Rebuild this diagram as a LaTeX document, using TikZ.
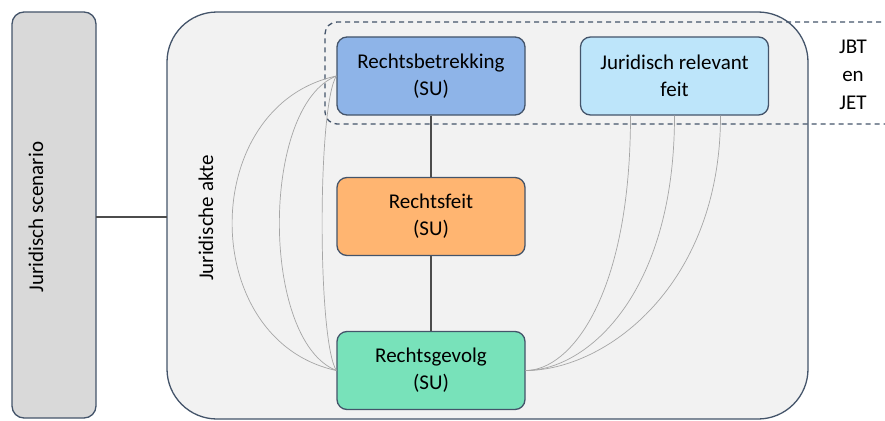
\documentclass[tikz,border=0pt]{standalone}
\usepackage{fontspec}
\setmainfont{Carlito}
\usetikzlibrary{positioning}

\definecolor{rand}{HTML}{44546A}
\definecolor{scengrijs}{HTML}{D9D9D9}
\definecolor{aktegrijs}{HTML}{F2F2F2}
\definecolor{rbblauw}{HTML}{8EB4E8}
\definecolor{jrfblauw}{HTML}{BDE5FA}
\definecolor{rforanje}{HTML}{FFB571}
\definecolor{rggroen}{HTML}{78E2BA}
\definecolor{lijngrijs}{HTML}{A6A6A6}

\tikzset{
  su/.style={draw=rand, line width=1.3pt, rounded corners=10pt,
    minimum width=188, minimum height=78, align=center,
    font=\fontsize{21}{27}\selectfont},
  relatie/.style={draw=lijngrijs, line width=0.7pt},
  verbinding/.style={draw=black!70, line width=1.2pt}
}

\begin{document}
\begin{tikzpicture}[x=1pt, y=-1pt]
\useasboundingbox (0,0) rectangle (885,420);
        % Draw the frames
        \draw[rand, line width=1.3pt, fill=scengrijs, rounded corners=12pt] (12,12) rectangle (96,418);
        \draw[rand, line width=1.3pt, fill=aktegrijs, rounded corners=50pt] (167,12) rectangle (808,419);
        \node[rotate=90, font=\fontsize{21}{26}\selectfont] at (36,217)  (scen)  {Juridisch scenario};
        \node[rotate=90, font=\fontsize{21}{26}\selectfont] at (206,218) (akte)  {Juridische akte};
        \coordinate (scenr) at (96,217);
        \coordinate (aktel) at (167,217);
        \draw[verbinding] (scenr) -- (aktel);

        % Draw the states
        \node[su, fill=rbblauw]  at (431,76)    (rb)     {Rechtsbetrekking\\(SU)};
        \node[su, fill=jrfblauw] at (674.5,76)  (jrf)    {Juridisch relevant\\feit};
        \node[su, fill=rforanje] at (431,216.5) (rf)     {Rechtsfeit\\(SU)};
        \node[su, fill=rggroen]  at (431,370.5) (rg)     {Rechtsgevolg\\(SU)};

        % JBT and JET band
        \draw[rand, line width=1.3pt, dash pattern=on 5pt off 4pt, rounded corners=12pt]
            (890,22) -| (325,124) -- (890,124);
        \node[font=\fontsize{21}{28}\selectfont, align=center] at (853,75) (jbt) {JBT\\en\\JET};

\draw[verbinding]  (rb) edge (rf);
\draw[verbinding]  (rf) edge (rg);

        % Connect the states
\draw[relatie] (rb.west) .. controls +(-139,30) and +(-139,-30) .. (rg.west);
\draw[relatie] (rb.west) .. controls +(-76,30) and +(-76,-30) .. (rg.west);
\draw[relatie] (rb.west) .. controls +(-19,30) and +(-19,-30) .. (rg.west);
\draw[relatie] ([xshift=-44pt]jrf.south) .. controls +(0,180) and +(45,0) .. (rg.east);
\draw[relatie] (jrf.south) .. controls +(0,180) and +(60,0) .. (rg.east);
\draw[relatie] ([xshift=46pt]jrf.south) .. controls +(0,170) and +(80,0) .. (rg.east);
\end{tikzpicture}
\end{document}
